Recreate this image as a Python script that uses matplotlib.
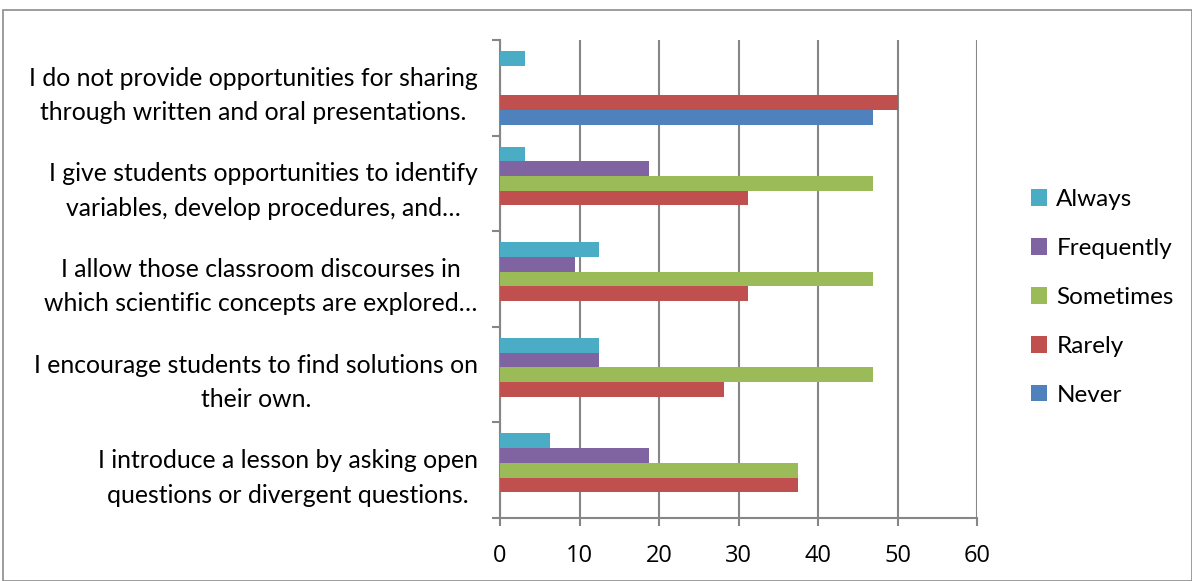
import numpy as np
import matplotlib.pyplot as plt
from matplotlib.patches import Rectangle

plt.rcParams['font.family'] = ['Lato', 'DejaVu Sans']

# statements, bottom to top as drawn
statements = [
    'I introduce a lesson by asking open\nquestions or divergent questions.',
    'I encourage students to find solutions on\ntheir own.',
    'I allow those classroom discourses in\nwhich scientific concepts are explored\u2026',
    'I give students opportunities to identify\nvariables, develop procedures, and\u2026',
    'I do not provide opportunities for sharing\nthrough written and oral presentations.',
]

never      = [0, 0, 0, 0, 46.875]
rarely     = [37.5, 28.125, 31.25, 31.25, 50]
sometimes  = [37.5, 46.875, 46.875, 46.875, 0]
frequently = [18.75, 12.5, 9.375, 18.75, 0]
always     = [6.25, 12.5, 12.5, 3.125, 3.125]

series = ['Never', 'Rarely', 'Sometimes', 'Frequently', 'Always']
colors = ['#4F81BD', '#C0504D', '#9BBB59', '#8064A2', '#4BACC6']
values = [never, rarely, sometimes, frequently, always]

fig = plt.figure(figsize=(11.92, 5.81), dpi=100)
ax = fig.add_axes([500/1192, 1 - 518/581, 477/1192, 478/581])

# outer chart border
fig.patches.append(Rectangle((3/1192, 0), 1 - 3/1192, 1 - 10/581, transform=fig.transFigure,
                             fill=False, edgecolor='#8c8c8c', linewidth=1.2))

y = np.arange(len(statements))
w = 1 / 6.5
for k, (name, vals, c) in enumerate(zip(series, values, colors)):
    ax.barh(y + (k - 2) * w, vals, height=w, color=c, label=name, zorder=3)

ax.set_xlim(0, 60)
ax.set_ylim(-0.5, 4.5)
ax.set_xticks(range(0, 61, 10))
ax.set_xticklabels([str(t) for t in range(0, 61, 10)], fontsize=17, family=['Open Sans', 'DejaVu Sans'])
ax.set_yticks(np.arange(-0.5, 5, 1))
ax.set_yticklabels([])
ax.set_yticks(y, minor=True)
ax.set_yticklabels(statements, minor=True, fontsize=17.8, multialignment='center', linespacing=1.6)
ax.tick_params(axis='y', which='minor', length=0, pad=16)
ax.tick_params(axis='y', which='major', length=6, width=1.5, color='#868686')
ax.tick_params(axis='x', length=6, width=1.5, color='#868686', pad=13)

ax.grid(axis='x', color='#868686', linewidth=1.5, zorder=0)
for s in ['top', 'right']:
    ax.spines[s].set_visible(False)
for s in ['left', 'bottom']:
    ax.spines[s].set_color('#868686')
    ax.spines[s].set_linewidth(1.5)

h, l = ax.get_legend_handles_labels()
ax.legend(h[::-1], l[::-1], loc='center left', bbox_to_anchor=(1009/1192, 1 - 297.5/581),
          bbox_transform=fig.transFigure, frameon=False, fontsize=17.5,
          handlelength=0.65, handleheight=0.65, handletextpad=0.4, labelspacing=1.15)

fig.savefig('out.png', dpi=100)
